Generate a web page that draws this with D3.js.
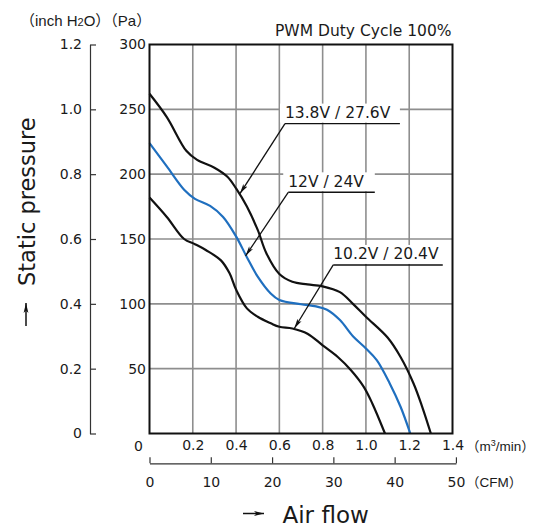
<!DOCTYPE html>
<html>
<head>
<meta charset="utf-8">
<script src="https://cdn.jsdelivr.net/npm/d3@7"></script>
<style>
  body { margin: 0; background: #fff; }
  svg { display: block; }
  text { font-family: "DejaVu Sans", sans-serif; fill: #1a1a1a; }
</style>
</head>
<body>
<svg id="chart" width="535" height="528"></svg>
<script>
// P-Q curves at PWM 100%, flow in m3/min, static pressure in Pa
const seriesNames = ["13.8V / 27.6V", "12V / 24V", "10.2V / 20.4V"];
const seriesColors = ["#111", "#1f6fbf", "#111"];

const flowHigh = [0, 0.08, 0.17, 0.22, 0.3, 0.36, 0.4, 0.45, 0.5, 0.54, 0.6, 0.66, 0.73, 0.8, 0.88, 0.94, 1.0, 1.1, 1.16, 1.22, 1.26, 1.3];
const presHigh = [262, 244, 218, 211, 205, 198, 189, 175, 157, 139, 123, 117, 115, 113.5, 109, 100, 90, 74, 59, 38.6, 20.6, 0];

const flowMid = [0, 0.08, 0.16, 0.21, 0.28, 0.34, 0.4, 0.45, 0.5, 0.56, 0.6, 0.7, 0.77, 0.82, 0.88, 0.94, 1.0, 1.05, 1.11, 1.16, 1.205];
const presMid = [224, 206, 188, 181, 175.5, 167, 152, 136, 121, 108, 103, 99.7, 98, 95.5, 87.5, 75, 65.6, 56.6, 38.6, 20.6, 0];

const flowLow = [0, 0.08, 0.16, 0.21, 0.26, 0.33, 0.37, 0.4, 0.45, 0.5, 0.56, 0.6, 0.66, 0.73, 0.8, 0.87, 0.93, 0.99, 1.03, 1.088];
const presLow = [182, 167, 150, 146, 141.5, 133.5, 123.5, 111, 96.5, 90, 85, 82.3, 81, 77, 68, 59, 49, 36, 23, 0];

// tick labels
const flowTicks = [0.2, 0.4, 0.6, 0.8, 1.0, 1.2, 1.4];
const paTicks = [50, 100, 150, 200, 250, 300];
const inchTicks = [0, 0.2, 0.4, 0.6, 0.8, 1.0, 1.2];
const cfmTicks = [0, 10, 20, 30, 40, 50];

// leader lines: arrow tip on the curve, elbow, end of the underline (data units)
const labelTip = [[0.418, 185], [0.444, 137], [0.669, 81]];
const labelElbow = [[0.626, 239], [0.641, 186], [0.849, 130]];
const labelEnd = [1.157, 1.041, 1.355];

const CFM_TO_M3 = 0.0283168;

const svg = d3.select("#chart");
const plotL = 149.5, plotR = 452.5, plotT = 44.5, plotB = 433.5;

const x = d3.scaleLinear().domain([0, 1.4]).range([plotL, plotR]);
const y = d3.scaleLinear().domain([0, 300]).range([plotB, plotT]);
const yInch = d3.scaleLinear().domain([0, 1.2]).range([plotB, plotT]);
const xCfm = d3.scaleLinear().domain([0, 50]).range([plotL, x(50 * CFM_TO_M3)]);

svg.append("defs").append("marker")
    .attr("id", "tip")
    .attr("viewBox", "0 0 10 6")
    .attr("refX", 10).attr("refY", 3)
    .attr("markerUnits", "userSpaceOnUse")
    .attr("markerWidth", 10).attr("markerHeight", 6)
    .attr("orient", "auto")
  .append("path")
    .attr("d", "M0,0.6L10,3L0,5.4L2.5,3Z")
    .attr("fill", "#111");

// grid
const grid = svg.append("g").attr("stroke", "#8e8e8e").attr("stroke-width", 1.6);
grid.selectAll("line.v").data(flowTicks.slice(0, -1)).join("line")
    .attr("class", "v")
    .attr("x1", d => x(d)).attr("x2", d => x(d))
    .attr("y1", plotT).attr("y2", plotB);
grid.selectAll("line.h").data(paTicks.slice(0, -1)).join("line")
    .attr("class", "h")
    .attr("y1", d => y(d)).attr("y2", d => y(d))
    .attr("x1", plotL).attr("x2", plotR);

// curves
const line = d3.line().curve(d3.curveCatmullRom.alpha(0.5)).x(d => x(d[0])).y(d => y(d[1]));
const curves = [
  d3.zip(flowHigh, presHigh),
  d3.zip(flowMid, presMid),
  d3.zip(flowLow, presLow)
];
svg.append("g").selectAll("path").data(curves).join("path")
    .attr("d", line)
    .attr("fill", "none")
    .attr("stroke", (d, i) => seriesColors[i])
    .attr("stroke-width", 2.2);

// frame
svg.append("rect")
    .attr("x", plotL).attr("y", plotT)
    .attr("width", plotR - plotL).attr("height", plotB - plotT)
    .attr("fill", "none").attr("stroke", "#111").attr("stroke-width", 2);

// labels with leader lines
const ann = svg.append("g");
seriesNames.forEach((name, i) => {
  const ex = x(labelElbow[i][0]), ey = y(labelElbow[i][1]);
  const endX = x(labelEnd[i]);
  ann.append("rect")
      .attr("x", ex - 5).attr("y", ey - 20)
      .attr("width", endX - ex + 5).attr("height", 19)
      .attr("fill", "#fff");
  ann.append("text")
      .attr("x", ex).attr("y", ey - 5.5)
      .style("font-size", "15.5px")
      .text(name);
  ann.append("line")
      .attr("x1", ex).attr("y1", ey).attr("x2", endX).attr("y2", ey)
      .attr("stroke", "#111").attr("stroke-width", 1.4);
  ann.append("line")
      .attr("x1", ex).attr("y1", ey)
      .attr("x2", x(labelTip[i][0])).attr("y2", y(labelTip[i][1]))
      .attr("stroke", "#111").attr("stroke-width", 1.3)
      .attr("marker-end", "url(#tip)");
});

// Pa axis
const paAxis = svg.append("g")
    .attr("transform", `translate(${plotL - 0.5},0)`)
    .call(d3.axisLeft(y).tickValues(paTicks).tickSize(0).tickPadding(3));
paAxis.select(".domain").remove();
paAxis.selectAll("text").style("font-size", "14px").attr("fill", "#1a1a1a");

// inch H2O axis
const inchAxis = svg.append("g")
    .attr("transform", "translate(90,0)")
    .call(d3.axisLeft(yInch).tickValues(inchTicks).tickSize(-6).tickSizeOuter(0).tickPadding(8)
      .tickFormat(d => d === 0 ? "0" : d3.format(".1f")(d)));
inchAxis.selectAll("line, path").attr("stroke", "#333").attr("stroke-width", 1.2);
inchAxis.selectAll("text").style("font-size", "14px").attr("fill", "#1a1a1a");

// m3/min axis labels
const flowAxis = svg.append("g")
    .attr("transform", `translate(0,${plotB})`)
    .call(d3.axisBottom(x).tickValues(flowTicks).tickSize(0).tickPadding(7)
      .tickFormat(d3.format(".1f")));
flowAxis.select(".domain").remove();
flowAxis.selectAll("text").style("font-size", "14px").attr("fill", "#1a1a1a");
svg.append("text").attr("x", 138.5).attr("y", 450.7).attr("text-anchor", "middle")
    .style("font-size", "14px").text("0");

// CFM axis
const cfmAxis = svg.append("g")
    .attr("transform", "translate(0,463.3)")
    .call(d3.axisBottom(xCfm).tickValues(cfmTicks).tickSize(-6).tickSizeOuter(0).tickPadding(14));
cfmAxis.selectAll("line, path").attr("stroke", "#333").attr("stroke-width", 1.2);
cfmAxis.selectAll("text").style("font-size", "14px").attr("fill", "#1a1a1a");

// unit labels
const unitFont = '"Liberation Sans", "Noto Sans CJK JP", sans-serif';
svg.append("text").attr("x", 466).attr("y", 450.5)
    .style("font-family", unitFont).style("font-size", "13.5px")
    .html("（m<tspan font-size='9' dy='-5'>3</tspan><tspan dy='5'>/min）</tspan>");
svg.append("text").attr("x", 466).attr("y", 487)
    .style("font-family", unitFont).style("font-size", "13.5px")
    .text("（CFM）");
svg.append("text").attr("x", 20).attr("y", 26)
    .style("font-family", unitFont).style("font-size", "15px")
    .html("（inch H<tspan font-size='11'>2</tspan>O）（Pa）");

svg.append("text").attr("x", 451.5).attr("y", 35.7).attr("text-anchor", "end")
    .style("font-size", "15.5px").text("PWM Duty Cycle 100%");

// axis titles with arrows
svg.append("line").attr("x1", 243).attr("y1", 513.5).attr("x2", 264).attr("y2", 513.5)
    .attr("stroke", "#111").attr("stroke-width", 1.5).attr("marker-end", "url(#tip)");
svg.append("text").attr("x", 282.5).attr("y", 522.7)
    .style("font-size", "23px").text("Air flow");

svg.append("line").attr("x1", 26).attr("y1", 326).attr("x2", 26).attr("y2", 303)
    .attr("stroke", "#111").attr("stroke-width", 1.5).attr("marker-end", "url(#tip)");
svg.append("text").attr("transform", "translate(34.5,286) rotate(-90)")
    .style("font-size", "22.5px").text("Static pressure");
</script>
</body>
</html>
